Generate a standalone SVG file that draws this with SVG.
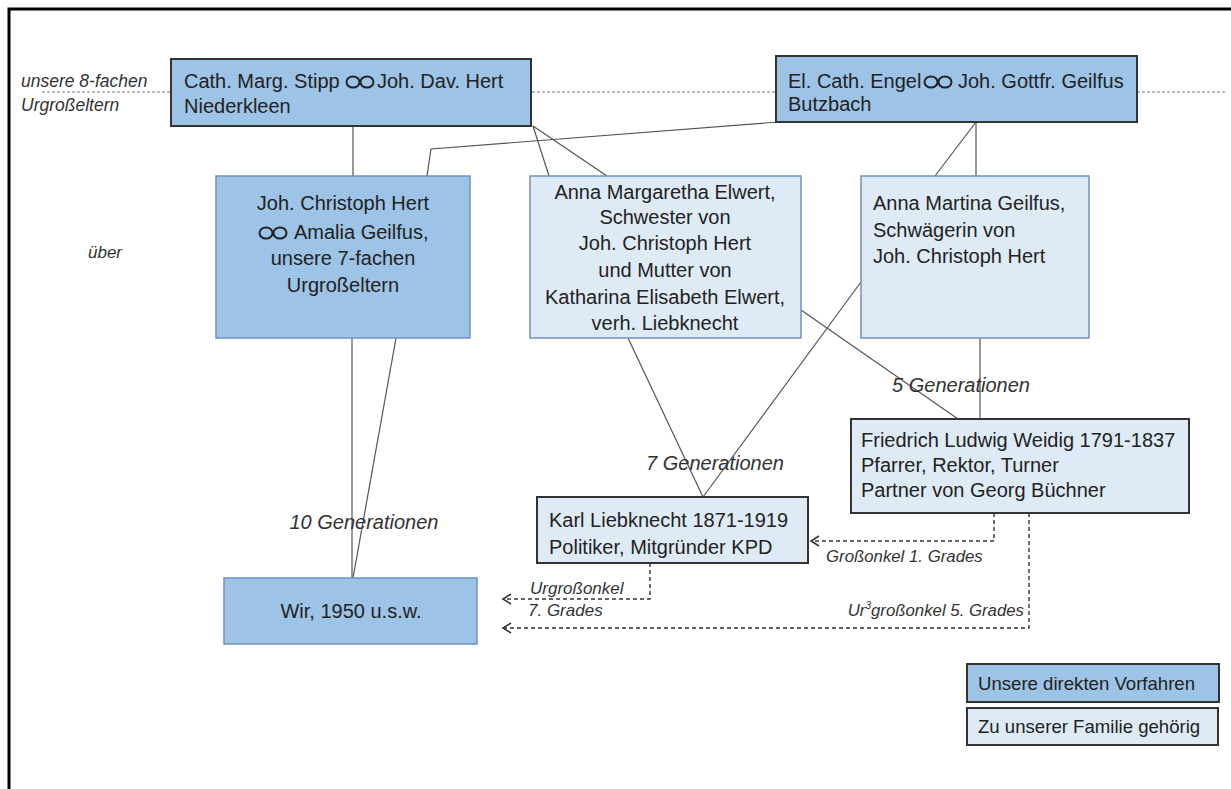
<svg xmlns="http://www.w3.org/2000/svg" width="1231" height="789" viewBox="0 0 1231 789">
<defs>
<style>
.t{font-family:"Liberation Sans",Arial,sans-serif;font-size:20px;fill:#222}
.lg{font-family:"Liberation Sans",Arial,sans-serif;font-size:18.6px;fill:#222}
.c{text-anchor:middle}
.i{font-family:"Liberation Sans",Arial,sans-serif;font-style:italic;fill:#333}
.dark{fill:#9DC3E6;stroke:#333;stroke-width:2}
.darkb{fill:#9DC3E6;stroke:#6f93c0;stroke-width:1.5}
.light{fill:#DEEBF7;stroke:#6f93c0;stroke-width:1.5}
.lightd{fill:#DEEBF7;stroke:#333;stroke-width:2}
.ln{stroke:#555;stroke-width:1.2;fill:none}
.dash{stroke:#333;stroke-width:1.4;fill:none;stroke-dasharray:4 3}
.ring{fill:none;stroke:#222;stroke-width:2}
</style>
<marker id="arr" markerWidth="12" markerHeight="12" refX="10" refY="6" orient="auto" markerUnits="userSpaceOnUse">
<path d="M2,1 L10,6 L2,11" fill="none" stroke="#333" stroke-width="1.6"/>
</marker>
</defs>
<rect width="1231" height="789" fill="#fff"/>
<path d="M9,789 V9 H1231" fill="none" stroke="#000" stroke-width="3"/>
<line x1="42" y1="92" x2="1226" y2="92" stroke="#777" stroke-width="1" stroke-dasharray="3 2"/>
<text class="i" x="21" y="87" font-size="17.5">unsere 8-fachen</text>
<text class="i" x="21" y="111" font-size="17.5">Urgroßeltern</text>
<text class="i" x="88" y="258" font-size="17">über</text>

<g id="connectors">
<line class="ln" x1="353" y1="126" x2="353" y2="176"/>
<polyline class="ln" points="427,176 431,149 778,122"/>
<line class="ln" x1="533" y1="126" x2="549" y2="176"/>
<line class="ln" x1="533" y1="126" x2="607" y2="176"/>
<line class="ln" x1="976" y1="122" x2="935" y2="176"/>
<line class="ln" x1="976" y1="122" x2="976" y2="176"/>
<line class="ln" x1="352" y1="338" x2="352" y2="578"/>
<line class="ln" x1="396" y1="338" x2="353" y2="578"/>
<line class="ln" x1="628" y1="338" x2="703" y2="497"/>
<line class="ln" x1="861" y1="282" x2="703" y2="497"/>
<line class="ln" x1="801" y1="310" x2="958" y2="419"/>
<line class="ln" x1="980" y1="338" x2="980" y2="419"/>
<polyline class="dash" points="994,513 994,541 811,541" marker-end="url(#arr)"/>
<polyline class="dash" points="650,563 650,599 503,599" marker-end="url(#arr)"/>
<polyline class="dash" points="1029,513 1029,628 503,628" marker-end="url(#arr)"/>
<text class="i" x="364" y="529" font-size="20" text-anchor="middle">10 Generationen</text>
<text class="i" x="715" y="470" font-size="20" text-anchor="middle">7 Generationen</text>
<text class="i" x="961" y="392" font-size="20" text-anchor="middle">5 Generationen</text>
<text class="i" x="826" y="562" font-size="16.8">Großonkel 1. Grades</text>
<text class="i" x="530" y="594" font-size="17">Urgroßonkel</text>
<text class="i" x="528" y="616" font-size="17">7. Grades</text>
<text class="i" x="1024" y="616" font-size="16.8" text-anchor="end">Ur<tspan font-size="10" dy="-7">3</tspan><tspan dy="7">großonkel 5. Grades</tspan></text>
</g>

<g id="n-stipp">
<rect class="dark" x="171" y="59" width="360" height="67"/>
<text class="t" x="184" y="88">Cath. Marg. Stipp</text>
<ellipse class="ring" cx="353" cy="82" rx="6.5" ry="5.5"/><ellipse class="ring" cx="367" cy="82" rx="6.5" ry="5.5"/>
<text class="t" x="377" y="88">Joh. Dav. Hert</text>
<text class="t" x="184" y="113">Niederkleen</text>
</g>

<g id="n-engel">
<rect class="dark" x="776" y="56" width="361" height="66"/>
<text class="t" x="788" y="88">El. Cath. Engel</text>
<ellipse class="ring" cx="931" cy="82" rx="6.5" ry="5.5"/><ellipse class="ring" cx="945" cy="82" rx="6.5" ry="5.5"/>
<text class="t" x="958" y="88">Joh. Gottfr. Geilfus</text>
<text class="t" x="788" y="111">Butzbach</text>
</g>

<g id="n-hert">
<rect class="darkb" x="216" y="176" width="254" height="162"/>
<text class="t c" x="343" y="210">Joh. Christoph Hert</text>
<ellipse class="ring" cx="266" cy="233" rx="6.5" ry="5.5"/><ellipse class="ring" cx="280" cy="233" rx="6.5" ry="5.5"/>
<text class="t" x="294" y="239">Amalia Geilfus,</text>
<text class="t c" x="343" y="265">unsere 7-fachen</text>
<text class="t c" x="343" y="292">Urgroßeltern</text>
</g>

<g id="n-elwert">
<rect class="light" x="530" y="176" width="271" height="162"/>
<text class="t c" x="665" y="199">Anna Margaretha Elwert,</text>
<text class="t c" x="665" y="224">Schwester von</text>
<text class="t c" x="665" y="250">Joh. Christoph Hert</text>
<text class="t c" x="665" y="277">und Mutter von</text>
<text class="t c" x="665" y="304">Katharina Elisabeth Elwert,</text>
<text class="t c" x="665" y="330">verh. Liebknecht</text>
</g>

<g id="n-martina">
<rect class="light" x="861" y="176" width="228" height="162"/>
<text class="t" x="873" y="210">Anna Martina Geilfus,</text>
<text class="t" x="873" y="237">Schwägerin von</text>
<text class="t" x="873" y="263">Joh. Christoph Hert</text>
</g>

<g id="n-weidig">
<rect class="lightd" x="851" y="419" width="338" height="94"/>
<text class="t" x="861" y="447">Friedrich Ludwig Weidig 1791-1837</text>
<text class="t" x="861" y="472">Pfarrer, Rektor, Turner</text>
<text class="t" x="861" y="497">Partner von Georg Büchner</text>
</g>

<g id="n-karl">
<rect class="lightd" x="537" y="497" width="271" height="66"/>
<text class="t" x="549" y="527">Karl Liebknecht 1871-1919</text>
<text class="t" x="549" y="554">Politiker, Mitgründer KPD</text>
</g>

<g id="n-wir">
<rect class="darkb" x="224" y="578" width="253" height="66"/>
<text class="t c" x="351" y="618">Wir, 1950 u.s.w.</text>
</g>

<g id="legend-direct">
<rect class="dark" x="967" y="664" width="252" height="38"/>
<text class="lg" x="978" y="690">Unsere direkten Vorfahren</text>
</g>
<g id="legend-family">
<rect class="lightd" x="967" y="708" width="251" height="37"/>
<text class="lg" x="978" y="733">Zu unserer Familie gehörig</text>
</g>
</svg>
